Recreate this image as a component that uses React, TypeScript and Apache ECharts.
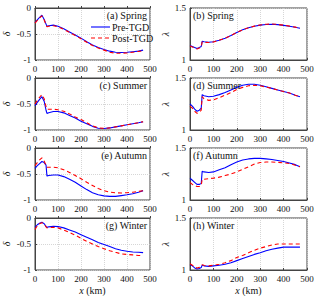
import React, { useEffect, useRef } from "react";
import * as echarts from "echarts";

const X = [0, 10, 20, 30, 40, 48, 52, 60, 80, 100, 125, 150, 175, 200, 225, 250, 275, 300, 325, 350, 375, 400, 425, 450, 470];

const springDeltaPre = [-0.28, -0.23, -0.18, -0.14, -0.22, -0.31, -0.35, -0.34, -0.33, -0.35, -0.40, -0.46, -0.52, -0.58, -0.65, -0.71, -0.76, -0.80, -0.83, -0.85, -0.855, -0.85, -0.84, -0.83, -0.81];
const springDeltaPost = [-0.29, -0.24, -0.19, -0.15, -0.23, -0.32, -0.36, -0.35, -0.34, -0.36, -0.41, -0.47, -0.53, -0.59, -0.66, -0.72, -0.77, -0.81, -0.85, -0.87, -0.87, -0.865, -0.85, -0.835, -0.82];
const springLambdaPre = [1.14, 1.13, 1.12, 1.11, 1.12, 1.13, 1.18, 1.175, 1.17, 1.175, 1.19, 1.21, 1.235, 1.265, 1.29, 1.31, 1.325, 1.335, 1.342, 1.344, 1.34, 1.333, 1.325, 1.315, 1.305];
const springLambdaPost = [1.135, 1.125, 1.115, 1.105, 1.115, 1.125, 1.175, 1.17, 1.168, 1.173, 1.19, 1.21, 1.235, 1.265, 1.29, 1.31, 1.326, 1.337, 1.344, 1.346, 1.342, 1.335, 1.326, 1.316, 1.306];

const summerDeltaPre = [-0.53, -0.47, -0.41, -0.36, -0.45, -0.62, -0.68, -0.67, -0.645, -0.645, -0.67, -0.72, -0.77, -0.83, -0.88, -0.93, -0.965, -0.97, -0.96, -0.94, -0.92, -0.90, -0.88, -0.86, -0.84];
const summerDeltaPost = [-0.50, -0.43, -0.37, -0.32, -0.40, -0.55, -0.60, -0.60, -0.60, -0.61, -0.64, -0.69, -0.75, -0.80, -0.86, -0.92, -0.96, -0.97, -0.96, -0.94, -0.92, -0.90, -0.88, -0.86, -0.84];
const summerLambdaPre = [1.25, 1.23, 1.20, 1.18, 1.19, 1.21, 1.34, 1.33, 1.32, 1.325, 1.34, 1.36, 1.385, 1.41, 1.43, 1.44, 1.44, 1.43, 1.415, 1.40, 1.385, 1.37, 1.355, 1.335, 1.32];
const summerLambdaPost = [1.23, 1.21, 1.18, 1.16, 1.17, 1.19, 1.32, 1.30, 1.285, 1.29, 1.31, 1.335, 1.36, 1.39, 1.41, 1.425, 1.43, 1.425, 1.413, 1.40, 1.385, 1.37, 1.355, 1.335, 1.32];

const autumnDeltaPre = [-0.39, -0.34, -0.30, -0.26, -0.28, -0.33, -0.54, -0.53, -0.52, -0.52, -0.55, -0.60, -0.66, -0.73, -0.80, -0.86, -0.90, -0.92, -0.93, -0.93, -0.915, -0.90, -0.88, -0.85, -0.82];
const autumnDeltaPost = [-0.34, -0.28, -0.23, -0.19, -0.25, -0.34, -0.37, -0.37, -0.37, -0.38, -0.42, -0.47, -0.53, -0.59, -0.66, -0.72, -0.78, -0.82, -0.85, -0.86, -0.865, -0.86, -0.85, -0.835, -0.82];
const autumnLambdaPre = [1.21, 1.19, 1.17, 1.15, 1.15, 1.16, 1.275, 1.27, 1.265, 1.27, 1.29, 1.31, 1.34, 1.365, 1.385, 1.395, 1.40, 1.40, 1.395, 1.39, 1.38, 1.37, 1.355, 1.34, 1.32];
const autumnLambdaPost = [1.17, 1.15, 1.14, 1.13, 1.13, 1.14, 1.20, 1.20, 1.205, 1.21, 1.22, 1.235, 1.25, 1.27, 1.295, 1.32, 1.345, 1.36, 1.365, 1.365, 1.362, 1.358, 1.35, 1.335, 1.32];

const winterDeltaPre = [-0.18, -0.13, -0.10, -0.08, -0.11, -0.16, -0.18, -0.17, -0.16, -0.165, -0.19, -0.23, -0.27, -0.32, -0.37, -0.42, -0.47, -0.51, -0.55, -0.59, -0.62, -0.64, -0.655, -0.66, -0.665];
const winterDeltaPost = [-0.22, -0.15, -0.11, -0.09, -0.12, -0.17, -0.19, -0.185, -0.18, -0.19, -0.23, -0.28, -0.33, -0.39, -0.45, -0.50, -0.55, -0.59, -0.63, -0.66, -0.69, -0.70, -0.71, -0.72, -0.72];
const winterLambdaPre = [1.05, 1.04, 1.02, 1.01, 1.015, 1.025, 1.045, 1.04, 1.035, 1.04, 1.045, 1.055, 1.07, 1.09, 1.11, 1.13, 1.15, 1.165, 1.185, 1.20, 1.21, 1.22, 1.22, 1.22, 1.22];
const winterLambdaPost = [1.06, 1.045, 1.03, 1.02, 1.025, 1.035, 1.05, 1.045, 1.04, 1.045, 1.055, 1.07, 1.09, 1.12, 1.14, 1.165, 1.19, 1.21, 1.225, 1.24, 1.25, 1.25, 1.25, 1.25, 1.25];

const panelLabels = ["(a) Spring", "(b) Spring", "(c) Summer", "(d) Summer", "(e) Autumn", "(f) Autumn", "(g) Winter", "(h) Winter"];
const seriesNames = ["Pre-TGD", "Post-TGD"];

const FONT = "'Times New Roman', 'Liberation Serif', 'DejaVu Serif', serif";
const BLUE = "#0000ff";
const RED = "#ff0000";
const DASH = [4, 3];

export default function App() {
  const ref = useRef<HTMLDivElement>(null);
  useEffect(() => {
    document.body.style.margin = "0";
    const chart = echarts.init(ref.current!, null, { renderer: "svg" });
    const panels = [
      { pre: springDeltaPre, post: springDeltaPost, delta: true },
      { pre: springLambdaPre, post: springLambdaPost, delta: false },
      { pre: summerDeltaPre, post: summerDeltaPost, delta: true },
      { pre: summerLambdaPre, post: summerLambdaPost, delta: false },
      { pre: autumnDeltaPre, post: autumnDeltaPost, delta: true },
      { pre: autumnLambdaPre, post: autumnLambdaPost, delta: false },
      { pre: winterDeltaPre, post: winterDeltaPost, delta: true },
      { pre: winterLambdaPre, post: winterLambdaPost, delta: false },
    ];
    const grids: any[] = [];
    const xAxes: any[] = [];
    const yAxes: any[] = [];
    const series: any[] = [];
    const graphics: any[] = [];
    panels.forEach((p, i) => {
      const row = Math.floor(i / 2);
      const col = i % 2;
      const left = col === 0 ? 33 : 190;
      const top = 8 + row * 70;
      grids.push({ left, top, width: 117, height: 52, show: true, borderColor: "#444", borderWidth: 1, backgroundColor: "#fff" });
      xAxes.push({
        type: "value", gridIndex: i, min: 0, max: 500, interval: 100,
        axisLine: { show: true, lineStyle: { color: "#444", width: 1 } },
        axisTick: { show: true, inside: true, length: 2, lineStyle: { color: "#444" } },
        axisLabel: { fontFamily: FONT, fontSize: 9, color: "#111", margin: 4 },
        splitLine: { show: true, lineStyle: { color: "#ccc", type: [1, 1], width: 0.8 } },
        name: row === 3 ? "{i|x} (km)" : "",
        nameLocation: "middle", nameGap: 15,
        nameTextStyle: { fontFamily: FONT, fontSize: 10, color: "#111", rich: { i: { fontFamily: FONT, fontStyle: "italic", fontSize: 10, color: "#111" } } },
      });
      yAxes.push({
        type: "value", gridIndex: i,
        min: p.delta ? -1 : 1, max: p.delta ? 0 : 1.5, interval: 0.5,
        axisLine: { show: true, lineStyle: { color: "#444", width: 1 } },
        axisTick: { show: true, inside: true, length: 2, lineStyle: { color: "#444" } },
        axisLabel: { fontFamily: FONT, fontSize: 9, color: "#111", margin: 4 },
        splitLine: { show: true, lineStyle: { color: "#ccc", type: [1, 1], width: 0.8 } },
        name: p.delta ? "δ" : "λ",
        nameLocation: "middle", nameRotate: 90, nameGap: p.delta ? 24 : 17,
        nameTextStyle: { fontFamily: FONT, fontSize: 10, fontStyle: "italic", color: "#111" },
      });
      series.push({
        name: seriesNames[0], type: "line", xAxisIndex: i, yAxisIndex: i, symbol: "none",
        data: X.map((x, k) => [x, p.pre[k]]),
        lineStyle: { color: BLUE, width: 1.1 }, itemStyle: { color: BLUE }, z: 3,
      });
      series.push({
        name: seriesNames[1], type: "line", xAxisIndex: i, yAxisIndex: i, symbol: "none",
        data: X.map((x, k) => [x, p.post[k]]),
        lineStyle: { color: RED, width: 1.1, type: DASH }, itemStyle: { color: RED }, z: 4,
      });
      graphics.push({
        type: "text",
        x: col === 0 ? left + 114 : left + 3,
        y: top + 7,
        z: 10,
        style: {
          text: panelLabels[i], fontFamily: FONT, fontSize: 10, fill: "#111",
          align: col === 0 ? "right" : "left", verticalAlign: "middle",
        },
      });
    });
    const legendRows = [
      { name: seriesNames[0], color: BLUE, dash: null as any, y: 27 },
      { name: seriesNames[1], color: RED, dash: DASH, y: 38 },
    ];
    legendRows.forEach((r) => {
      graphics.push({
        type: "line", z: 10,
        shape: { x1: 91, y1: r.y, x2: 110, y2: r.y },
        style: { stroke: r.color, lineWidth: 1.1, lineDash: r.dash || undefined },
      });
      graphics.push({
        type: "text", x: 112, y: r.y, z: 10,
        style: { text: r.name, fontFamily: FONT, fontSize: 10, fill: "#111", align: "left", verticalAlign: "middle" },
      });
    });
    chart.setOption({
      animation: false,
      grid: grids,
      xAxis: xAxes,
      yAxis: yAxes,
      series,
      graphic: graphics,
    });
    return () => chart.dispose();
  }, []);
  return <div ref={ref} style={{ width: 320, height: 296 }} />;
}
